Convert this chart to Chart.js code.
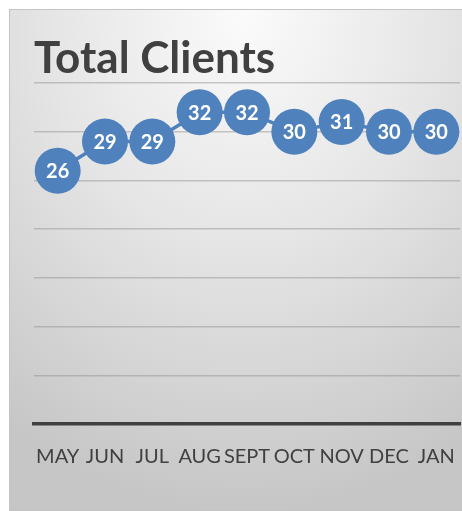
<!DOCTYPE html>
<html>
<head>
<meta charset="utf-8">
<script src="https://cdn.jsdelivr.net/npm/chart.js@4"></script>
<style>
  html, body { margin: 0; padding: 0; background: #ffffff; }
  #wrap { position: relative; width: 462px; height: 511px; overflow: hidden; }
  #bg {
    position: absolute; left: 9px; top: 9px; width: 470px; height: 500px;
    border: 1px solid #c4c4c4;
    background: radial-gradient(ellipse 90% 100% at 50% 0%, #fbfbfb 0%, #e6e6e6 45%, #d2d2d2 80%, #c6c6c6 100%);
  }
  canvas { position: absolute; left: 0; top: 0; }
</style>
</head>
<body>
<div id="wrap">
  <div id="bg"></div>
  <canvas id="c" width="462" height="511"></canvas>
</div>
<script>
const months = ['MAY', 'JUN', 'JUL', 'AUG', 'SEPT', 'OCT', 'NOV', 'DEC', 'JAN'];
const totalClients = [26, 29, 29, 32, 32, 30, 31, 30, 30];
const yTicks = [0, 5, 10, 15, 20, 25, 30, 35];
const chartTitle = 'Total Clients';

const pointLabels = {
  id: 'pointLabels',
  afterDatasetsDraw(chart) {
    const ctx = chart.ctx;
    const meta = chart.getDatasetMeta(0);
    ctx.save();
    ctx.fillStyle = '#ffffff';
    ctx.font = 'bold 20px Lato, "Open Sans", sans-serif';
    ctx.textAlign = 'center';
    ctx.textBaseline = 'middle';
    meta.data.forEach((pt, i) => {
      ctx.fillText(String(chart.data.datasets[0].data[i]), pt.x, pt.y + 1);
    });
    ctx.restore();
  }
};

new Chart(document.getElementById('c'), {
  type: 'line',
  data: {
    labels: months,
    datasets: [{
      label: chartTitle,
      data: totalClients,
      borderColor: '#4F81BD',
      backgroundColor: '#4F81BD',
      borderWidth: 3.5,
      pointRadius: 23,
      pointHoverRadius: 23,
      pointBackgroundColor: '#4F81BD',
      pointBorderColor: '#4F81BD',
      pointBorderWidth: 0,
      tension: 0,
      fill: false,
      clip: false
    }]
  },
  options: {
    responsive: false,
    animation: false,
    events: [],
    layout: { autoPadding: false, padding: { left: 34, right: 2, top: 9, bottom: 36 } },
    plugins: {
      legend: { display: false },
      tooltip: { enabled: false },
      title: {
        display: true,
        text: chartTitle,
        align: 'start',
        color: '#404040',
        font: { family: 'Lato, "Open Sans", sans-serif', size: 44, weight: 'bold', lineHeight: 1.0 },
        padding: { top: 28, bottom: 2 }
      }
    },
    scales: {
      x: {
        offset: true,
        grid: { display: false, drawTicks: true, tickLength: 15 },
        border: { display: true, color: '#404040', width: 3.5 },
        ticks: {
          color: '#404040',
          padding: 6,
          maxRotation: 0,
          autoSkip: false,
          font: { family: 'Lato, "Open Sans", sans-serif', size: 20 }
        }
      },
      y: {
        min: yTicks[0],
        max: yTicks[yTicks.length - 1],
        afterBuildTicks(scale) { scale.ticks = yTicks.map(v => ({ value: v })); },
        ticks: { display: false },
        border: { display: false },
        grid: {
          drawTicks: false,
          lineWidth: 1.5,
          color: (c) => c.tick && c.tick.value === 0 ? 'rgba(0,0,0,0)' : 'rgba(140,140,140,0.45)'
        }
      }
    }
  },
  plugins: [pointLabels]
});
</script>
</body>
</html>
